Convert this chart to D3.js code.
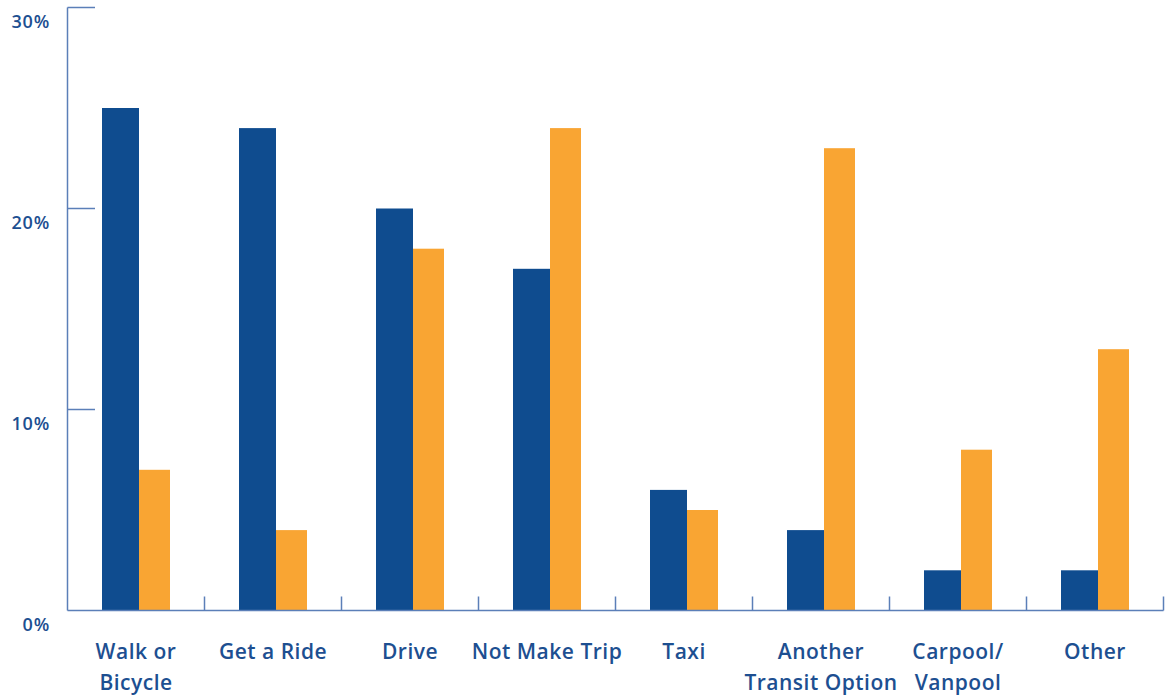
<!DOCTYPE html>
<html><head><meta charset="utf-8">
<script src="https://cdn.jsdelivr.net/npm/d3@7"></script>
<style>body{margin:0;background:#fff}svg{display:block}text{font-family:"Open Sans",sans-serif;font-weight:600;fill:#1d4f91}</style>
</head><body><svg id="c" width="1165" height="696"></svg>
<script>
const categories = [["Walk or","Bicycle"],["Get a Ride"],["Drive"],["Not Make Trip"],["Taxi"],["Another","Transit Option"],["Carpool/","Vanpool"],["Other"]];
const seriesA = [25,24,20,17,6,4,2,2];
const seriesB = [7,4,18,24,5,23,8,13];
const yTicks = [0,10,20,30];
const yTickLabels = ["0%","10%","20%","30%"];

const svg = d3.select("#c");
const axisColor = "#5b7fb8";
const x = d3.scaleBand().domain(d3.range(categories.length)).range([67.5,1163.5]).padding(0);
const y = d3.scaleLinear().domain([0,30]).range([610.5,7.5]);
const bw = x.bandwidth();
const wA = 37, wB = 31;

const g = svg.append("g");
categories.forEach((c,i)=>{
  const x0 = x(i) + (bw - wA - wB)/2;
  g.append("rect").attr("x",x0).attr("y",y(seriesA[i])).attr("width",wA).attr("height",y(0)-y(seriesA[i])).attr("fill","#0f4c8f");
  g.append("rect").attr("x",x0+wA).attr("y",y(seriesB[i])).attr("width",wB).attr("height",y(0)-y(seriesB[i])).attr("fill","#f9a533");
});

// y axis
svg.append("line").attr("x1",67.5).attr("x2",67.5).attr("y1",y(30)).attr("y2",y(0)).attr("stroke",axisColor).attr("stroke-width",1.5);
yTicks.forEach((t,i)=>{
  if(t>0) svg.append("line").attr("x1",67.5).attr("x2",95).attr("y1",y(t)).attr("y2",y(t)).attr("stroke",axisColor).attr("stroke-width",1.5);
  svg.append("text").attr("x",50).attr("y",y(t)+20).attr("text-anchor","end").attr("font-size",18).attr("letter-spacing",0.8).text(yTickLabels[i]);
});
// x axis
svg.append("line").attr("x1",67.5).attr("x2",1163.5).attr("y1",y(0)).attr("y2",y(0)).attr("stroke",axisColor).attr("stroke-width",1.5);
categories.forEach((c,i)=>{
  const xe = x(i)+bw;
  svg.append("line").attr("x1",xe).attr("x2",xe).attr("y1",y(0)-14).attr("y2",y(0)).attr("stroke",axisColor).attr("stroke-width",1.5);
  const t = svg.append("text").attr("text-anchor","middle").attr("font-size",21).attr("letter-spacing",0.5);
  c.forEach((line,j)=>{
    t.append("tspan").attr("x",x(i)+bw/2).attr("y",659+j*31).text(line);
  });
});
</script></body></html>
